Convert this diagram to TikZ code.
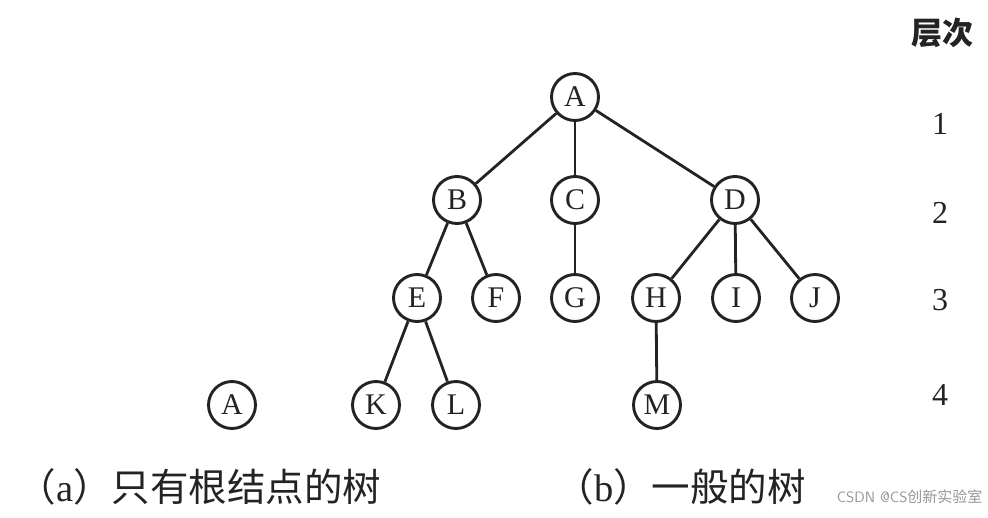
\documentclass[tikz,border=0pt]{standalone}
\usepackage{fontspec}
\setmainfont{Liberation Serif}
\newfontfamily\cjk{Noto Sans CJK SC}
\usepackage{xcolor}
\definecolor{ink}{RGB}{35,35,35}
\definecolor{wmark}{RGB}{150,150,150}
\usepackage{tikz}
\usetikzlibrary{positioning}

\begin{document}
\begin{tikzpicture}[x=1pt,y=-1pt,
    tnode/.style={draw=ink,line width=2.9pt,circle,minimum size=47pt,inner sep=0pt,font=\fontsize{30}{30}\selectfont,text=ink},
    tedge/.style={draw=ink,line width=2.8pt},
    lvl/.style={font=\fontsize{32}{32}\selectfont,text=ink},
    captext/.style={font=\cjk\fontsize{38.5}{38.5}\selectfont,text=ink,anchor=west}]
  \useasboundingbox (0,0) rectangle (988,517);
  % single root tree
  \node[tnode] (a0) at (232,405) {A};
  % general tree
  \node[tnode] (A) at (575,97) {A};
  \node[tnode] (B) at (457,200) {B};
  \node[tnode] (C) at (575,200) {C};
  \node[tnode] (D) at (735,200) {D};
  \node[tnode] (E) at (417,298) {E};
  \node[tnode] (F) at (496,298) {F};
  \node[tnode] (G) at (575,298) {G};
  \node[tnode] (H) at (656,298) {H};
  \node[tnode] (I) at (736,298) {I};
  \node[tnode] (J) at (815,298) {J};
  \node[tnode] (K) at (376,405) {K};
  \node[tnode] (L) at (456,405) {L};
  \node[tnode] (M) at (657,405) {M};
  \foreach \u/\v in {A/B,A/C,A/D,B/E,B/F,C/G,D/H,D/I,D/J,E/K,E/L,H/M}
    \draw[tedge] (\u) -- (\v);
  % levels
  \node[font=\cjk\bfseries\fontsize{31}{31}\selectfont,text=ink] (lvtitle) at (942,33) {层次};
  \node[lvl] (lv1) at (940,124) {1};
  \node[lvl] (lv2) at (940,213) {2};
  \node[lvl] (lv3) at (940,300) {3};
  \node[lvl] (lv4) at (940,395) {4};
  % captions
  \node[captext] (capa) at (14,487) {（{\rmfamily a}）只有根结点的树};
  \node[captext] (capb) at (552,487) {（{\rmfamily b}）一般的树};
  \node[font=\fontsize{15}{15}\sffamily,text=wmark,anchor=east] (wm) at (986,497) {CSDN @CS{\cjk 创新实验室}};
\end{tikzpicture}
\end{document}
